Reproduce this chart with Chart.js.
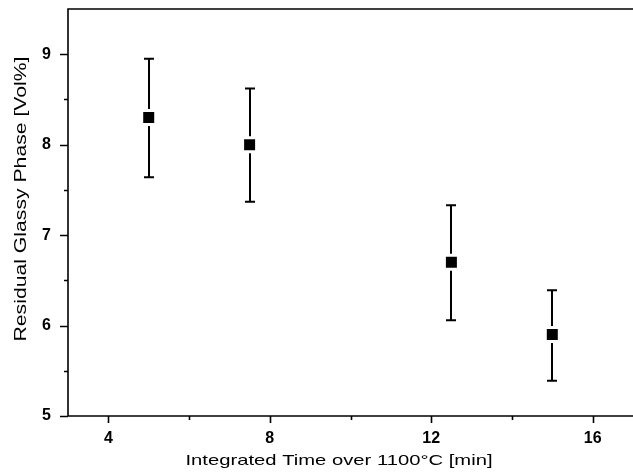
<!DOCTYPE html>
<html>
<head>
<meta charset="utf-8">
<script src="https://cdn.jsdelivr.net/npm/chart.js@4"></script>
<style>
  html, body { margin: 0; padding: 0; background: #fff; }
  #wrap { width: 633px; height: 474px; }
</style>
</head>
<body>
<div id="wrap"><canvas id="glassChart"></canvas></div>
<script>
// values
const timeMin = [5, 7.5, 12.5, 15];
const glassVol = [8.3, 8.0, 6.7, 5.9];
const errUpper = [8.95, 8.62, 7.33, 6.39];
const errLower = [7.64, 7.37, 6.06, 5.39];

const xMajorTicks = [4, 8, 12, 16];
const xMinorTicks = [6, 10, 14];
const yMajorTicks = [5, 6, 7, 8, 9];
const yMinorTicks = [5.5, 6.5, 7.5, 8.5];

const xTitle = 'Integrated Time over 1100\u00B0C [min]';
const yTitle = 'Residual Glassy Phase [Vol%]';

// draws the error bars under the markers
const errorBars = {
    id: 'errorBars',
    beforeDatasetsDraw(chart) {
        const ctx = chart.ctx;
        const xs = chart.scales.x, ys = chart.scales.y;
        ctx.save();
        ctx.strokeStyle = '#000';
        ctx.lineWidth = 2;
        for (let i = 0; i < timeMin.length; i++) {
            const px = Math.round(xs.getPixelForValue(timeMin[i]));
            const top = ys.getPixelForValue(errUpper[i]);
            const bot = ys.getPixelForValue(errLower[i]);
            ctx.beginPath();
            ctx.moveTo(px, top);
            ctx.lineTo(px, bot);
            ctx.moveTo(px - 5, top);
            ctx.lineTo(px + 5, top);
            ctx.moveTo(px - 5, bot);
            ctx.lineTo(px + 5, bot);
            ctx.stroke();
        }
        ctx.restore();
    }
};

// axis frame, origin-style ticks and the stretched axis titles
const frame = {
    id: 'frame',
    afterDraw(chart) {
        const ctx = chart.ctx;
        const a = chart.chartArea;
        const xs = chart.scales.x, ys = chart.scales.y;
        ctx.save();
        ctx.strokeStyle = '#000';
        ctx.lineWidth = 1.6;
        ctx.beginPath();
        ctx.moveTo(a.right + 2, a.top);
        ctx.lineTo(a.left, a.top);
        ctx.lineTo(a.left, a.bottom);
        ctx.lineTo(a.right + 2, a.bottom);
        ctx.stroke();

        ctx.beginPath();
        xMajorTicks.forEach(v => {
            const p = Math.round(xs.getPixelForValue(v)) + 0.5;
            ctx.moveTo(p, a.bottom); ctx.lineTo(p, a.bottom + 7);
        });
        xMinorTicks.forEach(v => {
            const p = Math.round(xs.getPixelForValue(v)) + 0.5;
            ctx.moveTo(p, a.bottom); ctx.lineTo(p, a.bottom + 4);
        });
        yMajorTicks.forEach(v => {
            const p = Math.round(ys.getPixelForValue(v)) + 0.5;
            ctx.moveTo(a.left, p); ctx.lineTo(a.left - 8, p);
        });
        yMinorTicks.forEach(v => {
            const p = Math.round(ys.getPixelForValue(v)) + 0.5;
            ctx.moveTo(a.left, p); ctx.lineTo(a.left - 4, p);
        });
        ctx.stroke();

        // tick labels
        ctx.fillStyle = '#000';
        ctx.font = 'bold 16px "Liberation Sans", Arial, sans-serif';
        ctx.textAlign = 'center';
        ctx.textBaseline = 'middle';
        xMajorTicks.forEach(v => {
            ctx.fillText(String(v), xs.getPixelForValue(v), a.bottom + 23);
        });
        ctx.textAlign = 'right';
        yMajorTicks.forEach(v => {
            ctx.fillText(String(v), a.left - 17, ys.getPixelForValue(v));
        });

        // titles, stretched along the text like the source figure
        ctx.font = '15px "Liberation Sans", Arial, sans-serif';
        ctx.textAlign = 'center';
        let w = ctx.measureText(xTitle).width;
        ctx.save();
        ctx.translate(339, 461);
        ctx.scale(307 / w, 1);
        ctx.fillText(xTitle, 0, 0);
        ctx.restore();

        ctx.font = '17px "Liberation Sans", Arial, sans-serif';
        w = ctx.measureText(yTitle).width;
        ctx.save();
        ctx.translate(21, 199);
        ctx.rotate(-Math.PI / 2);
        ctx.scale(285 / w, 1);
        ctx.fillText(yTitle, 0, 0);
        ctx.restore();

        ctx.restore();
    }
};

const ctx = document.getElementById('glassChart').getContext('2d');
new Chart(ctx, {
    type: 'scatter',
    data: {
        datasets: [{
            data: timeMin.map((t, i) => ({ x: t, y: glassVol[i] })),
            pointStyle: 'rect',
            pointRadius: 9.9,
            pointHoverRadius: 9.9,
            backgroundColor: '#000',
            borderColor: '#fff',
            borderWidth: 3
        }]
    },
    options: {
        responsive: true,
        maintainAspectRatio: false,
        animation: false,
        layout: { autoPadding: false, padding: { top: 9, right: 0, left: 0, bottom: 0 } },
        plugins: {
            legend: { display: false },
            tooltip: { enabled: false }
        },
        scales: {
            x: {
                type: 'linear',
                min: 3,
                max: 17,
                grid: { display: false },
                border: { display: false },
                ticks: { display: false },
                afterFit(scale) { scale.height = 58; }
            },
            y: {
                type: 'linear',
                min: 5,
                max: 9.5,
                grid: { display: false },
                border: { display: false },
                ticks: { display: false },
                afterFit(scale) { scale.width = 68; }
            }
        }
    },
    plugins: [errorBars, frame]
});
</script>
</body>
</html>
